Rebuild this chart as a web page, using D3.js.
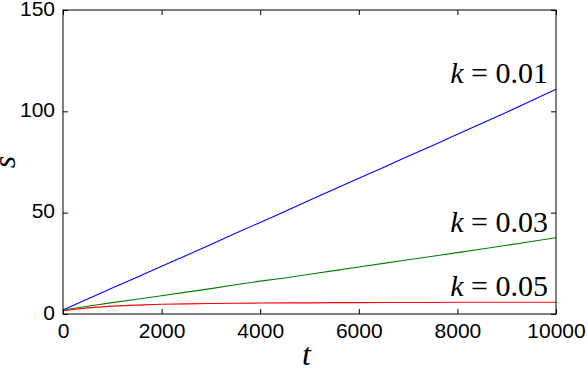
<!DOCTYPE html>
<html>
<head>
<meta charset="utf-8">
<script src="https://cdn.jsdelivr.net/npm/d3@7"></script>
<style>
  body { margin: 0; background: #fff; }
  svg { display: block; }
  .tick text { font-family: 'Liberation Sans', Arial, sans-serif; font-size: 21px; fill: #000; }
  .tick line { stroke: #000; }
</style>
</head>
<body>
<div id="chart"></div>
<script>
const width = 588, height = 368;
const margin = {left: 63, top: 10, right: 32, bottom: 54};

// time steps
const tValues = [0, 500, 1000, 1500, 2000, 2500, 3000, 3500, 4000, 4500, 5000,
                 5500, 6000, 6500, 7000, 7500, 8000, 8500, 9000, 9500, 10000];
const sK001 = [2, 7.4, 12.8, 18.1, 23.6, 28.9, 34.3, 39.8, 45.2, 50.6, 56.1,
               61.5, 67.0, 72.3, 77.8, 83.2, 88.7, 94.1, 99.6, 105.2, 110.9];
const sK003 = [2, 3.8, 5.6, 7.3, 9.0, 10.8, 12.5, 14.4, 16.2, 17.8, 19.6,
               21.4, 23.2, 25.0, 26.8, 28.5, 30.3, 32.1, 33.9, 35.8, 37.6];
const sK005 = [1.6, 3.0, 3.9, 4.4, 4.8, 5.0, 5.2, 5.3, 5.4, 5.5, 5.5,
               5.6, 5.6, 5.7, 5.7, 5.7, 5.8, 5.8, 5.8, 5.8, 5.8];
const seriesNames = ['0.01', '0.03', '0.05'];
const seriesColors = ['#0000ff', '#008000', '#ff0000'];
const xTicks = [0, 2000, 4000, 6000, 8000, 10000];
const yTicks = [0, 50, 100, 150];

const series = [sK001, sK003, sK005].map((vals, i) => ({
    name: seriesNames[i],
    color: seriesColors[i],
    points: vals.map((v, j) => ({t: tValues[j], s: v}))
}));

const plotW = width - margin.left - margin.right,
      plotH = height - margin.top - margin.bottom;

const svg = d3.select('#chart').append('svg')
    .attr('width', width)
    .attr('height', height);

const g = svg.append('g')
    .attr('transform', `translate(${margin.left}, ${margin.top})`);

const x = d3.scaleLinear().domain([0, 10000]).range([0, plotW]);
const y = d3.scaleLinear().domain([0, 150]).range([plotH, 0]);

const line = d3.line()
    .x(d => x(d.t))
    .y(d => y(d.s));

g.selectAll('path.series')
    .data(series)
    .join('path')
    .attr('class', 'series')
    .attr('fill', 'none')
    .attr('stroke', d => d.color)
    .attr('stroke-width', 1.1)
    .attr('d', d => line(d.points));

// axes with inside ticks on all four sides
g.append('g')
    .attr('transform', `translate(0, ${plotH})`)
    .call(d3.axisBottom(x).tickValues(xTicks).tickSize(-5).tickPadding(0).tickFormat(d3.format('d')))
    .call(a => a.select('.domain').remove())
    .call(a => a.selectAll('text').attr('y', 24).attr('dy', null));

g.append('g')
    .call(d3.axisTop(x).tickValues(xTicks).tickSize(-5).tickFormat(''))
    .call(a => a.select('.domain').remove());

g.append('g')
    .call(d3.axisLeft(y).tickValues(yTicks).tickSize(-5).tickFormat(d3.format('d')))
    .call(a => a.select('.domain').remove())
    .call(a => a.selectAll('text').attr('x', -8).attr('dy', null).attr('y', 5));

g.append('g')
    .attr('transform', `translate(${plotW}, 0)`)
    .call(d3.axisRight(y).tickValues(yTicks).tickSize(-5).tickFormat(''))
    .call(a => a.select('.domain').remove());

g.append('rect')
    .attr('width', plotW)
    .attr('height', plotH)
    .attr('fill', 'none')
    .attr('stroke', '#000')
    .attr('stroke-width', 1);

// series labels
const labels = g.selectAll('text.klabel')
    .data(series)
    .join('text')
    .attr('class', 'klabel')
    .attr('x', plotW - 8)
    .attr('y', d => y(d.points[d.points.length - 1].s) - 6)
    .attr('text-anchor', 'end')
    .style('font-family', "'Liberation Serif', 'Times New Roman', serif")
    .style('font-size', '30px')
    .style('white-space', 'pre');

labels.append('tspan')
    .style('font-style', 'italic')
    .text('k');
labels.append('tspan')
    .text(d => ` = ${d.name}`);

// axis titles
svg.append('text')
    .attr('x', margin.left + plotW / 2 - 3)
    .attr('y', 365)
    .attr('text-anchor', 'middle')
    .style('font-family', "'Liberation Serif', 'Times New Roman', serif")
    .style('font-style', 'italic')
    .style('font-size', '32px')
    .text('t');

svg.append('text')
    .attr('transform', `translate(15, ${margin.top + plotH / 2}) rotate(-90)`)
    .attr('text-anchor', 'middle')
    .style('font-family', "'Liberation Serif', 'Times New Roman', serif")
    .style('font-style', 'italic')
    .style('font-size', '32px')
    .text('s');
</script>
</body>
</html>
